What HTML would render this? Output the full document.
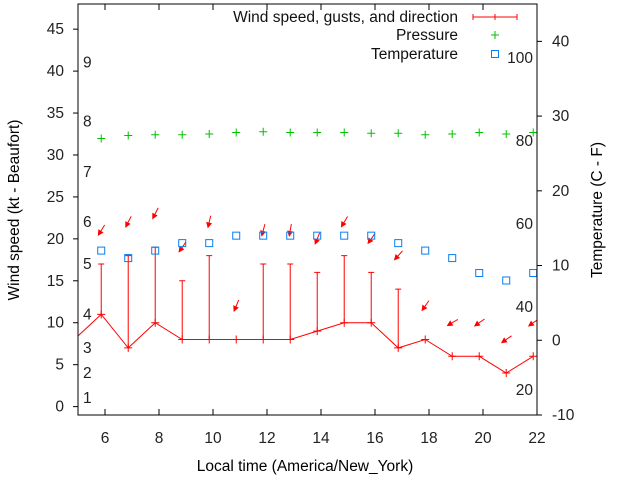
<!DOCTYPE html>
<html><head><meta charset="utf-8"><style>
body{margin:0;background:#fff}
svg{display:block;font-family:"Liberation Sans",sans-serif;font-size:15.5px}
</style></head><body>
<svg id="chart" width="640" height="480" viewBox="0 0 640 480" xmlns="http://www.w3.org/2000/svg">
<rect width="640" height="480" fill="#fff"/>
<g id="marks"></g>
<g id="axes"></g>
<text transform="translate(19,210) rotate(-90)" text-anchor="middle">Wind speed (kt - Beaufort)</text>
<text transform="translate(602,210) rotate(-90)" text-anchor="middle">Temperature (C - F)</text>
<text x="305" y="471" text-anchor="middle">Local time (America/New_York)</text>
</svg>
<script>
const hours=[5.86,6.86,7.86,8.86,9.86,10.86,11.86,12.86,13.86,14.86,15.86,16.86,17.86,18.86,19.86,20.86,21.86];
const windSpeed=[11,7,10,8,8,8,8,8,9,10,10,7,8,6,6,4,6];
const prevHour=4.86, prevSpeed=8;
const gusts=[17,18,19,15,18,null,17,17,16,18,16,14,null,null,null,null,null];
const windDir=[32,27,27,35,13,23,15,10,22,31,35,42,35,59,55,55,55];
const temperature=[12,11,12,13,13,14,14,14,14,14,14,13,12,11,9,8,9];
const pressure=[27.0,27.4,27.5,27.5,27.6,27.8,27.9,27.8,27.8,27.8,27.7,27.7,27.5,27.6,27.8,27.6,27.8];
const xTicks=[6,8,10,12,14,16,18,20,22];
const yTicks=[0,5,10,15,20,25,30,35,40,45];
const y2Ticks=[-10,0,10,20,30,40];
const beaufortLabels=["1","2","3","4","5","6","7","8","9"];
const beaufortKt=[1,4,7,11,17,22,28,34,41];
const fahrenheitLabels=[20,40,60,80,100];

const L=78,R=537,T=4,B=415;
const X=h=>L+(h-5)/(22-5)*(R-L);
const Y=v=>B-(v+1)/(48+1)*(B-T);
const Y2=v=>B-(v+10)/(45+10)*(B-T);
const NS="http://www.w3.org/2000/svg";
const marks=document.getElementById('marks'), axes=document.getElementById('axes');
function mk(tag,attrs,parent){const e=document.createElementNS(NS,tag);for(const k in attrs)e.setAttribute(k,attrs[k]);parent.appendChild(e);return e;}

const defs=mk('defs',{},marks);const cp=mk('clipPath',{id:'clip'},defs);mk('rect',{x:L,y:T,width:R-L,height:B-T},cp);
const g=mk('g',{'clip-path':'url(#clip)'},marks);

let pts=[[X(prevHour),Y(prevSpeed)]].concat(hours.map((h,i)=>[X(h),Y(windSpeed[i])]));
const line=mk('polyline',{points:pts.map(p=>p.join(',')).join(' '),fill:'none',stroke:'#f00','stroke-width':1},g);


hours.forEach((h,i)=>{
  const x=X(h),y=Y(windSpeed[i]);
  const p=mk('path',{d:`M${x-4},${y}h8M${x},${y-4}v8`,stroke:'#f00','stroke-width':1},g);
  
  
  if(gusts[i]!=null){
    const yg=Y(gusts[i]);
    const e=mk('path',{d:`M${x},${y}V${yg}M${x-3},${yg}h6`,stroke:'#f00','stroke-width':1},g);
    
    
  }
  const top=Math.max(windSpeed[i],gusts[i]==null?0:gusts[i])+4;
  const cy=Y(top), len=13, a=(windDir[i]+180)*Math.PI/180;
  const dx=Math.sin(a)*len, dy=-Math.cos(a)*len;
  const x1=x-dx/2,y1=cy-dy/2,x2=x+dx/2,y2=cy+dy/2;
  const ux=dx/len,uy=dy/len, hl=6, hw=3;
  const bx=x2-ux*hl,by=y2-uy*hl;
  const ar=mk('g',{},g);
  
  
  mk('line',{x1,y1,x2:bx,y2:by,stroke:'#f00','stroke-width':1},ar);
  mk('polygon',{points:`${x2},${y2} ${bx-uy*hw},${by+ux*hw} ${bx+uy*hw},${by-ux*hw}`,fill:'#f00'},ar);
  const t=mk('rect',{x:X(h)-3.5,y:Y2(temperature[i])-3.5,width:7,height:7,fill:'none',stroke:'#0a7ef0','stroke-width':1},g);
  
  
  const py=Y2(pressure[i]);
  const pp=mk('path',{d:`M${x-4},${py}h8M${x},${py-4}v8`,stroke:'#00c000','stroke-width':1},g);
  
  
});

beaufortLabels.forEach((s,i)=>{
  const t=mk('text',{x:83,y:Y(beaufortKt[i])+5,fill:'#222'},axes);t.textContent=s;
  
  
});
fahrenheitLabels.forEach(f=>{
  const c=(f-32)*5/9;
  const t=mk('text',{x:533,y:Y2(c)+5,'text-anchor':'end',fill:'#222'},axes);t.textContent=f;
  
  
});

const fr=mk('rect',{x:L,y:T,width:R-L,height:B-T,fill:'none',stroke:'#000','stroke-width':1},axes);


xTicks.forEach(v=>{
  const x=X(v);
  mk('path',{d:`M${x},${B}v-6M${x},${T}v6`,stroke:'#000'},axes);
  const t=mk('text',{x,y:443,'text-anchor':'middle',fill:'#222'},axes);t.textContent=v;
  
  
});
yTicks.forEach(v=>{
  const y=Y(v);
  mk('path',{d:`M${L},${y}h-5`,stroke:'#000'},axes);
  const t=mk('text',{x:64,y:y+5,'text-anchor':'end',fill:'#222'},axes);t.textContent=v;
  
  
});
y2Ticks.forEach(v=>{
  const y=Y2(v);
  mk('path',{d:`M${R},${y}h5`,stroke:'#000'},axes);
  const t=mk('text',{x:552,y:y+5,fill:'#222'},axes);t.textContent=v;
  
  
});

const lg=mk('g',{},axes);


const lt=[["Wind speed, gusts, and direction",17],["Pressure",35],["Temperature",54]];
lt.forEach(([s,y])=>{const t=mk('text',{x:458,y:y+5,'text-anchor':'end',fill:'#111'},lg);t.textContent=s;
  
  });
mk('path',{d:'M473,17h44M473,14v6M517,14v6M495,14v6',stroke:'#f00'},lg);
mk('path',{d:'M491,35h8M495,31v8',stroke:'#00c000'},lg);
mk('rect',{x:491.5,y:50.5,width:7,height:7,fill:'none',stroke:'#0a7ef0'},lg);
</script>
</body></html>
